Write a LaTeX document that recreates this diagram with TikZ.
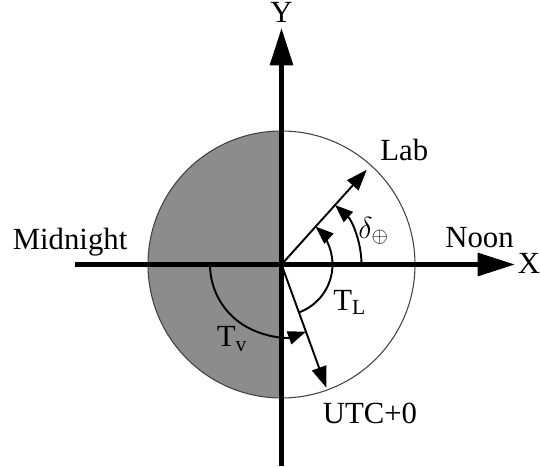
\documentclass[tikz,border=0pt]{standalone}
\usepackage{fontspec}
\setmainfont{Liberation Serif}
\usepackage{tikz}
\usetikzlibrary{arrows.meta, positioning, calc}

\begin{document}
\begin{tikzpicture}[
    axis/.style={line width=2.8pt, -{Triangle[length=0.75cm, width=0.45cm]}},
    vec/.style={line width=1.1pt, -{Triangle[length=0.42cm, width=0.3cm]}},
    angarc/.style={line width=1.1pt, -{Triangle[length=0.36cm, width=0.27cm]}},
    lbl/.style={font=\fontsize{17.5}{21}\selectfont, inner sep=0pt, anchor=base west}
]
    \useasboundingbox (-5.63,-4.03) rectangle (5.17,5.29);

    % Earth, night side shaded
    \fill[black!45] (0,-2.67) arc (270:90:2.67) -- cycle;
    \draw[black!75, line width=0.6pt] (0,0) circle (2.67);

    % Axes
    \coordinate (O) at (0,0);
    \coordinate (xstart) at (-4.13,0);
    \coordinate (xend) at (4.67,0);
    \coordinate (ystart) at (0,-4.03);
    \coordinate (yend) at (0,4.73);
    \draw[axis] (xstart) -- (xend);
    \draw[axis] (ystart) -- (yend);

    % Lab and UTC+0 directions
    \coordinate (lab) at (48:2.55);
    \coordinate (utc) at (-70:2.62);
    \draw[vec] (O) -- (lab);
    \draw[vec] (O) -- (utc);

    % Angles
    \draw[angarc] (0:1.6) arc (0:48:1.6);
    \draw[angarc] (-70:1.02) arc (-70:48:1.02);
    \draw[angarc] (180:1.43) arc (180:290:1.43);

    % Labels
    \node[lbl, anchor=center] (ylab) at (0,5.04) {Y};
    \node[lbl, anchor=center] (xlab) at (4.95,0.03) {X};
    \node[lbl] (noon) at (3.27,0.35) {Noon};
    \node[lbl] (midnight) at (-5.38,0.31) {Midnight};
    \node[lbl] (lablab) at (1.97,2.08) {Lab};
    \node[lbl] (utclab) at (0.82,-3.18) {UTC+0};
    \node[lbl] (tl) at (1.03,-0.91) {T\textsubscript{L}};
    \node[lbl] (tv) at (-1.30,-1.64) {T\textsubscript{v}};
    \node[lbl] (delta) at (1.53,0.53) {$\delta_{\oplus}$};
\end{tikzpicture}
\end{document}
